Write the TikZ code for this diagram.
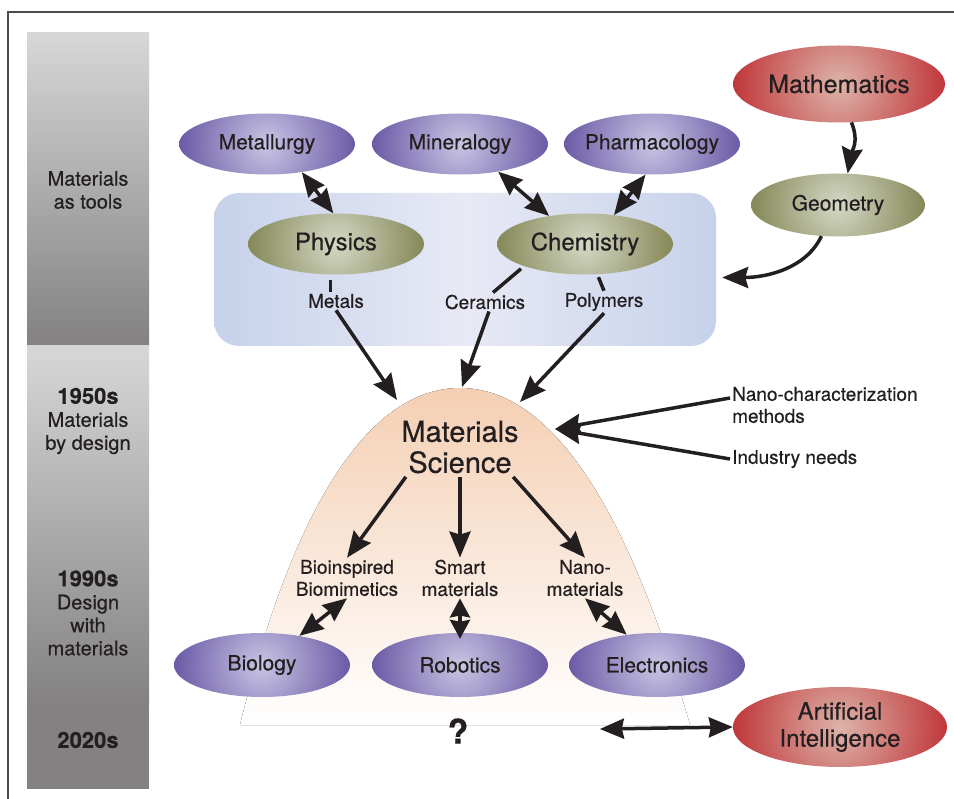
\documentclass[tikz,border=0pt]{standalone}
\usepackage{fontspec}
\setmainfont{TeX Gyre Heros}[FakeBold=0.4]
\usetikzlibrary{positioning,shapes.geometric,arrows.meta}

\definecolor{ink}{HTML}{231F20}
\definecolor{purpin}{HTML}{C9C5E3}
\definecolor{purpout}{HTML}{6A5AA6}
\definecolor{olivein}{HTML}{D4D8C5}
\definecolor{oliveout}{HTML}{858857}
\definecolor{redin}{HTML}{DDB4AA}
\definecolor{redout}{HTML}{C0373A}
\definecolor{boxin}{HTML}{E8E9F5}
\definecolor{boxout}{HTML}{C6D2EA}
\definecolor{peach}{HTML}{F4CFB3}
\definecolor{barlight}{HTML}{D7D7D7}
\definecolor{bardark}{HTML}{838182}

\begin{document}
\begin{tikzpicture}[x=1pt, y=-1pt,
  ell/.style={ellipse, inner ysep=0pt, inner xsep=-10pt, minimum width=176pt, minimum height=61pt, text=ink, font=\fontsize{21}{24}\selectfont},
  purpleell/.style={path picture={\shade[inner color=purpin, outer color=purpout] (path picture bounding box.center) circle (#1);}},
  purpleell/.default=88,
  oliveell/.style={path picture={\shade[inner color=olivein, outer color=oliveout] (path picture bounding box.center) circle (#1);}},
  oliveell/.default=88,
  redell/.style={path picture={\shade[inner color=redin, outer color=redout] (path picture bounding box.center) circle (#1);}},
  redell/.default=107,
  lab/.style={text=ink, inner sep=2pt, align=center, font=\fontsize{19}{22}\selectfont},
  side/.style={text=ink, align=center, font=\fontsize{20}{23}\selectfont},
  link/.style={ink, line width=3.5pt},
  arr/.style={link, -{Stealth[length=26pt, width=21pt, inset=3pt]}},
  dbl/.style={link, {Stealth[length=#1, width=20pt, inset=2pt]}-{Stealth[length=#1, width=20pt, inset=2pt]}},
  dbl/.default=24pt]

\useasboundingbox (0,0) rectangle (954,799);

% time bar
\fill[top color=barlight, bottom color=bardark] (27,33) rectangle (149,345);
\fill[top color=barlight, bottom color=bardark] (27,346) rectangle (149,705);
\fill[bardark] (27,704) rectangle (149,789);
\draw[black!70, line width=1.3pt] (954,12) -- (8,12) -- (8,799);

\node[side] (tools) at (88,190) {Materials\\as tools};
\node[side] (bydesign) at (88,421) {{\fontsize{22}{23}\selectfont\bfseries 1950s}\\Materials\\by design};
\node[side] (withmat) at (88,613) {{\fontsize{22}{23}\selectfont\bfseries 1990s}\\Design\\with\\materials};
\node[side, font=\fontsize{22}{23}\selectfont\bfseries] (now) at (88,740) {2020s};

% background shapes
\node[rounded corners=25pt, minimum width=502pt, minimum height=153pt, left color=boxout, right color=boxout, middle color=boxin] (box) at (465,269.5) {};
\fill[top color=peach, bottom color=white] (240,725) .. controls (300,480) and (380,388) .. (460,388)
  .. controls (540,388) and (620,480) .. (690,725) -- cycle;

% fields
\node[ell, purpleell] (metallurgy) at (267,144) {Metallurgy};
\node[ell, purpleell] (mineralogy) at (460,144) {Mineralogy};
\node[ell, purpleell] (pharmacology) at (652,144) {Pharmacology};
\node[ell, redell=106, minimum width=212pt, minimum height=77pt, font=\fontsize{25}{28}\selectfont] (mathematics) at (839,84) {Mathematics};
\node[ell, oliveell=87, minimum width=174pt, minimum height=63pt] (geometry) at (838,205) {Geometry};
\node[ell, oliveell, font=\fontsize{24}{27}\selectfont] (physics) at (336,244) {Physics};
\node[ell, oliveell, font=\fontsize{24}{27}\selectfont] (chemistry) at (585,244) {Chemistry};
\node[ell, purpleell, minimum height=64pt] (biology) at (262,665) {Biology};
\node[ell, purpleell, minimum height=64pt] (robotics) at (460,665) {Robotics};
\node[ell, purpleell, minimum height=64pt] (electronics) at (657,665) {Electronics};
\node[ell, redell, minimum width=214pt, minimum height=80pt, align=center, font=\fontsize{24}{27}\selectfont] (ai) at (840,727) {Artificial\\Intelligence};

% labels
\node[lab] (metals) at (336,301) {Metals};
\node[lab] (ceramics) at (485,302) {Ceramics};
\node[lab] (polymers) at (604,302) {Polymers};
\node[text=ink, align=center, font=\fontsize{29}{31}\selectfont] (ms) at (460,447) {Materials\\Science};
\node[lab, anchor=west, align=left] (nanochar) at (730,405) {Nano-characterization\\methods};
\node[lab, anchor=west] (industry) at (730,459) {Industry needs};
\node[lab] (bio) at (347,578) {Bioinspired\\Biomimetics};
\node[lab] (smart) at (460,578) {Smart\\materials};
\node[lab] (nano) at (585,578) {Nano-\\materials};
\node[text=ink, font=\fontsize{34}{36}\selectfont\bfseries] (question) at (458,731) {?};

% points on the bell
\coordinate (bellA) at (397,400);
\coordinate (bellB) at (462,387);
\coordinate (bellC) at (520,402);
\coordinate (bellD) at (555,429);

% links
\draw[dbl] (metallurgy.-39) -- (physics.95);
\draw[dbl] (mineralogy.-36) -- (chemistry.142);
\draw[dbl] (pharmacology.-102) -- (chemistry.45);
\draw[arr] (mathematics.-72) .. controls +(8,20) and +(4,-22) .. (geometry.73);
\draw[arr] (geometry.-118) .. controls +(-15,32) and +(45,0) .. ([xshift=6pt, yshift=-8pt]box.east);

\draw[link, shorten <=5pt] (physics.-100) -- (physics.-100 |- metals.north);
\draw[link, shorten <=4pt] (chemistry.200) -- ([xshift=8pt]ceramics.north);
\draw[link, shorten <=3pt] (chemistry.-68) -- (polymers.north);
\draw[arr] (metals.south) -- (bellA);
\draw[arr] ([xshift=4pt]ceramics.south) -- (bellB);
\draw[arr] (polymers.south) -- (bellC);
\draw[arr] ([yshift=7pt]nanochar.west) -- (bellD);
\draw[arr] (industry.west) -- (bellD);

\draw[arr] ([xshift=8pt]ms.south west) -- (bio.north);
\draw[arr] (ms.south) -- (smart.north);
\draw[arr] ([xshift=-9pt]ms.south east) -- (nano.north);
\draw[dbl] (bio.south) -- (biology.38);
\draw[dbl=19pt] (smart.south) -- ([yshift=-6pt]robotics.north);
\draw[dbl] (nano.south) -- (electronics.135);
\draw[dbl, shorten <=128pt] (question.east) -- (ai.west);

\end{tikzpicture}
\end{document}
